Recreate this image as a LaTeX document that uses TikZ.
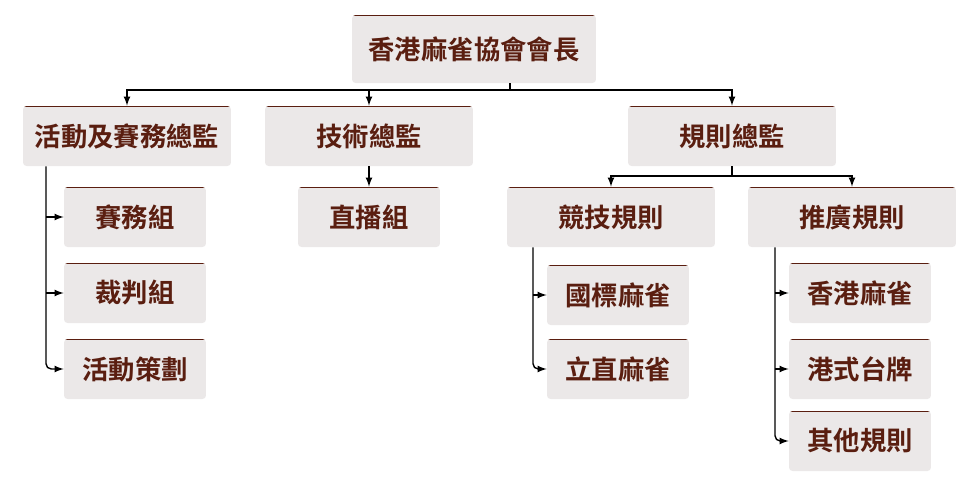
\documentclass[tikz,border=0pt]{standalone}
\usepackage{fontspec}
\setmainfont{Noto Sans CJK TC}[BoldFont={* Bold}]
\usetikzlibrary{positioning}
\definecolor{brn}{HTML}{5A1E10}
\definecolor{boxgray}{HTML}{EBE8E8}
\tikzset{
  unit/.style={fill=boxgray, rounded corners=2pt, text=brn, font=\fontsize{15}{18}\selectfont\bfseries,
    minimum height=1.2cm, inner sep=0pt, path picture={\draw[brn, line width=1.2pt]
      (path picture bounding box.north west) -- (path picture bounding box.north east);}},
  wide/.style={unit, minimum width=4.16cm},
  small/.style={unit, minimum width=2.84cm},
  link/.style={line width=0.8pt},
  arr/.style={link, -latex}
}
\begin{document}
\begin{tikzpicture}[x=0.02cm, y=-0.02cm]
  \useasboundingbox (0,0) rectangle (980,488);
  % top level
  \node[unit, minimum width=4.88cm, minimum height=1.36cm] (chair) at (474,49) {香港麻雀協會會長};
  \node[wide] (ops) at (127,136) {活動及賽務總監};
  \node[wide] (tech) at (369,136) {技術總監};
  \node[wide] (rules) at (732,136) {規則總監};
  % children
  \node[small] (game) at (135,217) {賽務組};
  \node[small] (judge) at (135,293) {裁判組};
  \node[small] (plan) at (135,369) {活動策劃};
  \node[small] (live) at (369,217) {直播組};
  \node[wide] (comp) at (611,217) {競技規則};
  \node[wide] (promo) at (852,217) {推廣規則};
  \node[small] (mcr) at (618,295) {國標麻雀};
  \node[small] (riichi) at (618,369) {立直麻雀};
  \node[small] (hk) at (860,293) {香港麻雀};
  \node[small] (tw) at (860,369) {港式台牌};
  \node[small] (other) at (860,441) {其他規則};
  % connectors
  \draw[link] (chair.south -| 510,0) -- (510,90) coordinate (j1);
  \draw[arr] (j1) -| (ops.north);
  \draw[arr] (j1) -| (rules.north);
  \draw[arr] (tech.north |- j1) -- (tech.north);
  \draw[arr] (tech) -- (live);
  \draw[link] (rules.south) -- (732,176) coordinate (j2);
  \draw[arr] (j2) -| (comp.north);
  \draw[arr] (j2) -| (promo.north);
  \foreach \c in {game,judge}
    \draw[arr] (46,0 |- \c.west) -- (\c.west);
  \draw[arr, rounded corners=3pt] (ops.south -| 46,0) |- (plan.west);
  \draw[arr] (533,0 |- mcr.west) -- (mcr.west);
  \draw[arr, rounded corners=3pt] (comp.south -| 533,0) |- (riichi.west);
  \foreach \c in {hk,tw}
    \draw[arr] (775,0 |- \c.west) -- (\c.west);
  \draw[arr, rounded corners=3pt] (promo.south -| 775,0) |- (other.west);
\end{tikzpicture}
\end{document}
